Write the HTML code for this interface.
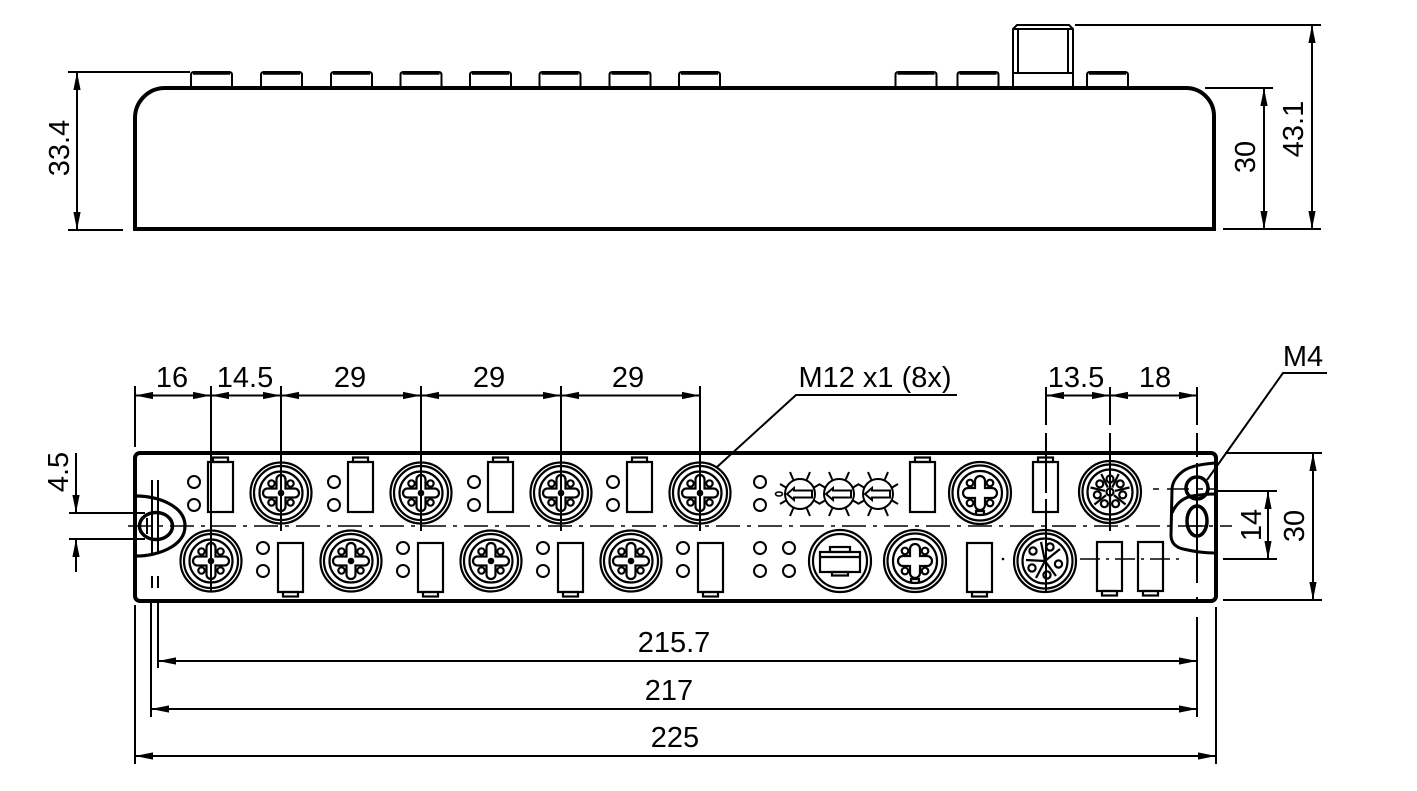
<!DOCTYPE html>
<html><head><meta charset="utf-8"><style>
html,body{margin:0;padding:0;background:#fff;}
svg{display:block;}
text{font-family:"Liberation Sans",Arial,sans-serif;font-size:29px;fill:#000;}
</style></head><body>
<svg width="1417" height="791" viewBox="0 0 1417 791" xmlns="http://www.w3.org/2000/svg">
<defs>
 <polygon id="ar" points="0,0 -18,-3.6 -18,3.6" fill="#000"/>
 <g id="conA" fill="none" stroke="#000" stroke-width="2.2">
  <circle r="30.5"/><circle r="27"/><circle r="21.5"/>
  <path d="M-4.5,-13.5 A4.5,4.5 0 0 1 4.5,-13.5 L4.5,-4.5 L13.5,-4.5 A4.5,4.5 0 0 1 13.5,4.5 L4.5,4.5 L4.5,13.5 A4.5,4.5 0 0 1 -4.5,13.5 L-4.5,4.5 L-13.5,4.5 A4.5,4.5 0 0 1 -13.5,-4.5 L-4.5,-4.5 Z"/>
  <circle cx="-9.5" cy="-9.5" r="3.2"/><circle cx="9.5" cy="-9.5" r="3.2"/>
  <circle cx="-9.5" cy="9.5" r="3.2"/><circle cx="9.5" cy="9.5" r="3.2"/>
  <circle r="3.3" fill="#000" stroke="none"/>
 </g>
 <g id="conB" fill="none" stroke="#000" stroke-width="2.2">
  <circle r="31"/><circle r="27.5"/><circle r="22"/>
  <path d="M-5,-12 A5,5 0 0 1 5,-12 L5,-5 L12,-5 A5,5 0 0 1 12,5 L5,5 L5,12 A5,5 0 0 1 -5,12 L-5,5 L-12,5 A5,5 0 0 1 -12,-5 L-5,-5 Z"/>
  <circle cx="-10" cy="-10" r="3.3"/><circle cx="10" cy="-10" r="3.3"/>
  <circle cx="-10" cy="10" r="3.3"/><circle cx="10" cy="10" r="3.3"/>
  <path d="M-4,22 L-4,18 L4,18 L4,22"/>
 </g>
 <g id="rtop" fill="none" stroke="#000" stroke-width="2.2">
  <rect x="0" y="0" width="25" height="50"/>
  <rect x="5" y="-4.5" width="15" height="4.5"/>
 </g>
 <g id="rbot" fill="none" stroke="#000" stroke-width="2.2">
  <rect x="0" y="0" width="25" height="49"/>
  <rect x="5" y="49" width="15" height="4.5"/>
 </g>
 <g id="leds" fill="none" stroke="#000" stroke-width="2">
  <circle cx="0" cy="0" r="6"/><circle cx="0" cy="23" r="6"/>
 </g>
 <g id="rot" fill="none" stroke="#000" stroke-width="2">
  <circle r="15"/>
  <path d="M-13,0 L-6,-6 L-6,-3.5 L12,-3.5 L12,3.5 L-6,3.5 L-6,6 Z"/>
  <path d="M-6.8,-14.5 L-10,-22 M6.8,-14.5 L10,-22 M-6.8,14.5 L-10,22 M6.8,14.5 L10,22 M13.6,-6.3 L20,-10 M13.6,6.3 L20,10 M-13.6,-6.3 L-20,-10 M-13.6,6.3 L-20,10"/>
 </g>
 <g id="cap" fill="none" stroke="#000">
  <path d="M0,88 L0,75 Q0,72 3,72 L38,72 Q41,72 41,75 L41,88" stroke-width="2"/>
  <line x1="2" y1="73.3" x2="39" y2="73.3" stroke-width="3"/>
 </g>
</defs>

<!-- ============ TOP SIDE VIEW ============ -->
<g fill="none" stroke="#000">
 <path d="M135,229 L135,118 A30,30 0 0 1 165,88 L1186,88 A28,28 0 0 1 1214,116 L1214,229 Z" stroke-width="4"/>
 <path d="M1013,88 L1013,29 L1017,25 L1069,25 L1073,29 L1073,88" stroke-width="2"/>
 <line x1="1013" y1="29" x2="1073" y2="29" stroke-width="2"/>
 <line x1="1018" y1="29" x2="1018" y2="73" stroke-width="2"/>
 <line x1="1068" y1="29" x2="1068" y2="73" stroke-width="2"/>
 <line x1="1013" y1="73" x2="1073" y2="73" stroke-width="2"/>
</g>
<use href="#cap" x="191"/><use href="#cap" x="261"/><use href="#cap" x="331"/><use href="#cap" x="400.5"/>
<use href="#cap" x="470"/><use href="#cap" x="539.5"/><use href="#cap" x="609.5"/><use href="#cap" x="679"/>
<use href="#cap" x="895.5"/><use href="#cap" x="957.5"/><use href="#cap" x="1087"/>

<g stroke="#000" stroke-width="2" fill="none">
 <line x1="68" y1="72" x2="190" y2="72"/>
 <line x1="68" y1="230" x2="123" y2="230"/>
 <line x1="77" y1="72" x2="77" y2="230"/>
 <line x1="1205" y1="88" x2="1273" y2="88"/>
 <line x1="1223" y1="229" x2="1321" y2="229"/>
 <line x1="1264" y1="88" x2="1264" y2="229"/>
 <line x1="1075" y1="25" x2="1321" y2="25"/>
 <line x1="1312" y1="25" x2="1312" y2="229"/>
</g>
<use href="#ar" transform="translate(77,72) rotate(-90)"/>
<use href="#ar" transform="translate(77,230) rotate(90)"/>
<use href="#ar" transform="translate(1264,88) rotate(-90)"/>
<use href="#ar" transform="translate(1264,229) rotate(90)"/>
<use href="#ar" transform="translate(1312,25) rotate(-90)"/>
<use href="#ar" transform="translate(1312,229) rotate(90)"/>
<text transform="translate(60,148) rotate(-90)" text-anchor="middle" dominant-baseline="central">33.4</text>
<text transform="translate(1246,157) rotate(-90)" text-anchor="middle" dominant-baseline="central">30</text>
<text transform="translate(1294,129) rotate(-90)" text-anchor="middle" dominant-baseline="central">43.1</text>

<!-- ============ FRONT VIEW ============ -->
<g stroke="#000" stroke-width="2" fill="none">
 <line x1="135" y1="395.5" x2="700" y2="395.5"/>
 <line x1="135" y1="386" x2="135" y2="447"/>
 <line x1="211" y1="386" x2="211" y2="592"/>
 <line x1="281" y1="386" x2="281" y2="531"/>
 <line x1="421" y1="386" x2="421" y2="531"/>
 <line x1="561" y1="386" x2="561" y2="531"/>
 <line x1="700" y1="386" x2="700" y2="531"/>
 <line x1="1046" y1="395.5" x2="1197" y2="395.5"/>
 <line x1="1046" y1="387" x2="1046" y2="592" stroke-dasharray="38 8 60 6 200"/>
 <line x1="1110" y1="387" x2="1110" y2="531" stroke-dasharray="38 8 200"/>
 <line x1="1197" y1="387" x2="1197" y2="603" stroke-dasharray="38 8 24 6 120 14 16 8 40"/>
 <polyline points="957,395 796,395 717,467"/>
 <polyline points="1327,373 1283,373 1207,480"/>
</g>
<use href="#ar" transform="translate(135,395.5) rotate(180)"/>
<use href="#ar" transform="translate(211,395.5)"/>
<use href="#ar" transform="translate(211,395.5) rotate(180)"/>
<use href="#ar" transform="translate(281,395.5)"/>
<use href="#ar" transform="translate(281,395.5) rotate(180)"/>
<use href="#ar" transform="translate(421,395.5)"/>
<use href="#ar" transform="translate(421,395.5) rotate(180)"/>
<use href="#ar" transform="translate(561,395.5)"/>
<use href="#ar" transform="translate(561,395.5) rotate(180)"/>
<use href="#ar" transform="translate(700,395.5)"/>
<use href="#ar" transform="translate(1046,395.5) rotate(180)"/>
<use href="#ar" transform="translate(1110,395.5)"/>
<use href="#ar" transform="translate(1110,395.5) rotate(180)"/>
<use href="#ar" transform="translate(1197,395.5)"/>
<g text-anchor="middle">
 <text x="172" y="387">16</text>
 <text x="245" y="387">14.5</text>
 <text x="350" y="387">29</text>
 <text x="489" y="387">29</text>
 <text x="628" y="387">29</text>
 <text x="875" y="387">M12 x1 (8x)</text>
 <text x="1076" y="387">13.5</text>
 <text x="1155" y="387">18</text>
 <text x="1303" y="366">M4</text>
</g>

<rect x="135" y="453" width="1081" height="148" rx="5" fill="none" stroke="#000" stroke-width="4"/>
<line x1="128" y1="526" x2="1232" y2="526" stroke="#000" stroke-width="1.6" stroke-dasharray="24 7 4 7"/>

<!-- left tab -->
<g fill="none" stroke="#000">
 <path d="M137,496 C156,496 185,505 185,526 C185,547 156,556 137,556" stroke-width="3.2"/>
 <ellipse cx="156" cy="526" rx="16.5" ry="13.5" stroke-width="3.5"/>
 <line x1="152" y1="480" x2="152" y2="553" stroke-width="2"/>
 <line x1="158" y1="480" x2="158" y2="553" stroke-width="2"/>
 <line x1="152" y1="576" x2="152" y2="588" stroke-width="2"/>
 <line x1="158" y1="576" x2="158" y2="588" stroke-width="2"/>
 <line x1="147" y1="518" x2="147" y2="534" stroke-width="2"/>
</g>

<g stroke="#000" stroke-width="2" fill="none">
 <line x1="69" y1="513" x2="145" y2="513"/>
 <line x1="69" y1="539" x2="145" y2="539"/>
 <line x1="76" y1="453" x2="76" y2="513"/>
 <line x1="76" y1="539" x2="76" y2="572"/>
</g>
<use href="#ar" transform="translate(76,513) rotate(90)"/>
<use href="#ar" transform="translate(76,539) rotate(-90)"/>
<text transform="translate(59,472) rotate(-90)" text-anchor="middle" dominant-baseline="central">4.5</text>

<use href="#conA" x="281" y="493"/>
<use href="#conA" x="421" y="493"/>
<use href="#conA" x="561" y="493"/>
<use href="#conA" x="700" y="493"/>
<use href="#leds" x="194" y="482"/><use href="#rtop" x="208" y="462"/>
<use href="#leds" x="334" y="482"/><use href="#rtop" x="348" y="462"/>
<use href="#leds" x="474" y="482"/><use href="#rtop" x="488" y="462"/>
<use href="#leds" x="613" y="482"/><use href="#rtop" x="627" y="462"/>

<use href="#conA" x="211" y="561"/>
<use href="#conA" x="351" y="561"/>
<use href="#conA" x="491" y="561"/>
<use href="#conA" x="631" y="561"/>
<use href="#leds" x="263" y="548"/><use href="#rbot" x="278" y="543"/>
<use href="#leds" x="403" y="548"/><use href="#rbot" x="418" y="543"/>
<use href="#leds" x="543" y="548"/><use href="#rbot" x="558" y="543"/>
<use href="#leds" x="683" y="548"/><use href="#rbot" x="698" y="543"/>

<use href="#leds" x="760" y="482"/>
<ellipse cx="779" cy="494" rx="3.5" ry="2" fill="none" stroke="#000" stroke-width="1.6"/>
<use href="#rot" x="800" y="494"/>
<use href="#rot" x="839" y="494"/>
<use href="#rot" x="878" y="494"/>
<use href="#rtop" x="910" y="462"/>
<use href="#conB" x="980" y="493"/>
<use href="#rtop" x="1033" y="462"/>

<g transform="translate(1110,492)" fill="none" stroke="#000" stroke-width="2.2">
 <circle r="31"/><circle r="27.5"/><circle r="22.5"/>
 <circle cx="0" cy="-13" r="3.5"/><circle cx="10.2" cy="-8.1" r="3.5"/><circle cx="12.7" cy="2.9" r="3.5"/>
 <circle cx="5.6" cy="11.7" r="3.5"/><circle cx="-5.6" cy="11.7" r="3.5"/><circle cx="-12.7" cy="2.9" r="3.5"/>
 <circle cx="-10.2" cy="-8.1" r="3.5"/><circle cx="0" cy="0" r="3.5"/>
 <path d="M2.2,-4.5 L8.7,-18 M4.9,-1.1 L19.5,-4.5 M3.9,3.1 L15.6,12.5 M0,5 L0,20 M-3.9,3.1 L-15.6,12.5 M-4.9,-1.1 L-19.5,-4.5 M-2.2,-4.5 L-8.7,-18"/>
</g>

<use href="#leds" x="760" y="548"/>
<use href="#leds" x="789" y="548"/>
<g transform="translate(840,561)" fill="none" stroke="#000" stroke-width="2.2">
 <circle r="31"/><circle r="27"/>
 <rect x="-20" y="-9" width="40" height="20"/>
 <line x1="-20" y1="-4" x2="20" y2="-4"/>
 <rect x="-10" y="-14" width="20" height="5"/>
 <rect x="-8" y="11" width="16" height="3.5"/>
</g>
<use href="#conB" x="915" y="561"/>
<use href="#rbot" x="967" y="543"/>
<circle cx="1003" cy="559" r="1.3" fill="#000"/>
<g transform="translate(1045,561)" fill="none" stroke="#000" stroke-width="2.2">
 <circle r="31"/><circle r="27.5"/><circle r="22.5"/>
 <circle cx="-12" cy="-10" r="3.6"/><circle cx="5" cy="-14" r="3.6"/><circle cx="13.5" cy="3" r="3.6"/>
 <circle cx="2" cy="14" r="3.6"/><circle cx="-13" cy="7" r="3.6"/>
 <path d="M0,0 L-4,-19 M0,0 L15,-12 M0,0 L11,15 M0,0 L-9,17 M0,0 L-19,-1"/>
</g>
<use href="#rbot" x="1097" y="542"/>
<use href="#rbot" x="1138" y="542"/>
<line x1="1080" y1="559" x2="1182" y2="559" stroke="#000" stroke-width="1.6" stroke-dasharray="20 6 3 6"/>

<g fill="none" stroke="#000">
 <path d="M1215,463 Q1190,465 1182,472 Q1172,480 1172,490 L1171,535 Q1171,546 1183,549 Q1200,553 1215,553" stroke-width="3"/>
 <path d="M1172,513 Q1178,499 1192,496 Q1205,494 1215,494" stroke-width="3"/>
 <circle cx="1197" cy="488" r="11" stroke-width="3.5"/>
 <ellipse cx="1197" cy="521" rx="10" ry="15" stroke-width="3.5"/>
 <line x1="1153" y1="489" x2="1225" y2="489" stroke-width="1.6" stroke-dasharray="6 8 22 8 6"/>
 <line x1="1187" y1="526" x2="1207" y2="526" stroke-width="1.6"/>
</g>

<g stroke="#000" stroke-width="2" fill="none">
 <line x1="1218" y1="491" x2="1277" y2="491"/>
 <line x1="1223" y1="559" x2="1277" y2="559"/>
 <line x1="1268" y1="491" x2="1268" y2="559"/>
 <line x1="1225" y1="453" x2="1322" y2="453"/>
 <line x1="1223" y1="600" x2="1322" y2="600"/>
 <line x1="1313" y1="453" x2="1313" y2="600"/>
</g>
<use href="#ar" transform="translate(1268,491) rotate(-90)"/>
<use href="#ar" transform="translate(1268,559) rotate(90)"/>
<use href="#ar" transform="translate(1313,453) rotate(-90)"/>
<use href="#ar" transform="translate(1313,600) rotate(90)"/>
<text transform="translate(1252,525) rotate(-90)" text-anchor="middle" dominant-baseline="central">14</text>
<text transform="translate(1295,526) rotate(-90)" text-anchor="middle" dominant-baseline="central">30</text>

<g stroke="#000" stroke-width="2" fill="none">
 <line x1="135" y1="605" x2="135" y2="764"/>
 <line x1="151" y1="603" x2="151" y2="717"/>
 <line x1="158" y1="603" x2="158" y2="668"/>
 <line x1="1197" y1="617" x2="1197" y2="717"/>
 <line x1="1216" y1="607" x2="1216" y2="764"/>
 <line x1="158" y1="661" x2="1197" y2="661"/>
 <line x1="151" y1="709" x2="1197" y2="709"/>
 <line x1="135" y1="756" x2="1216" y2="756"/>
</g>
<use href="#ar" transform="translate(158,661) rotate(180)"/>
<use href="#ar" transform="translate(1197,661)"/>
<use href="#ar" transform="translate(151,709) rotate(180)"/>
<use href="#ar" transform="translate(1197,709)"/>
<use href="#ar" transform="translate(135,756) rotate(180)"/>
<use href="#ar" transform="translate(1216,756)"/>
<g text-anchor="middle">
 <text x="674" y="652">215.7</text>
 <text x="669" y="700">217</text>
 <text x="675" y="747">225</text>
</g>
</svg>
</body></html>
